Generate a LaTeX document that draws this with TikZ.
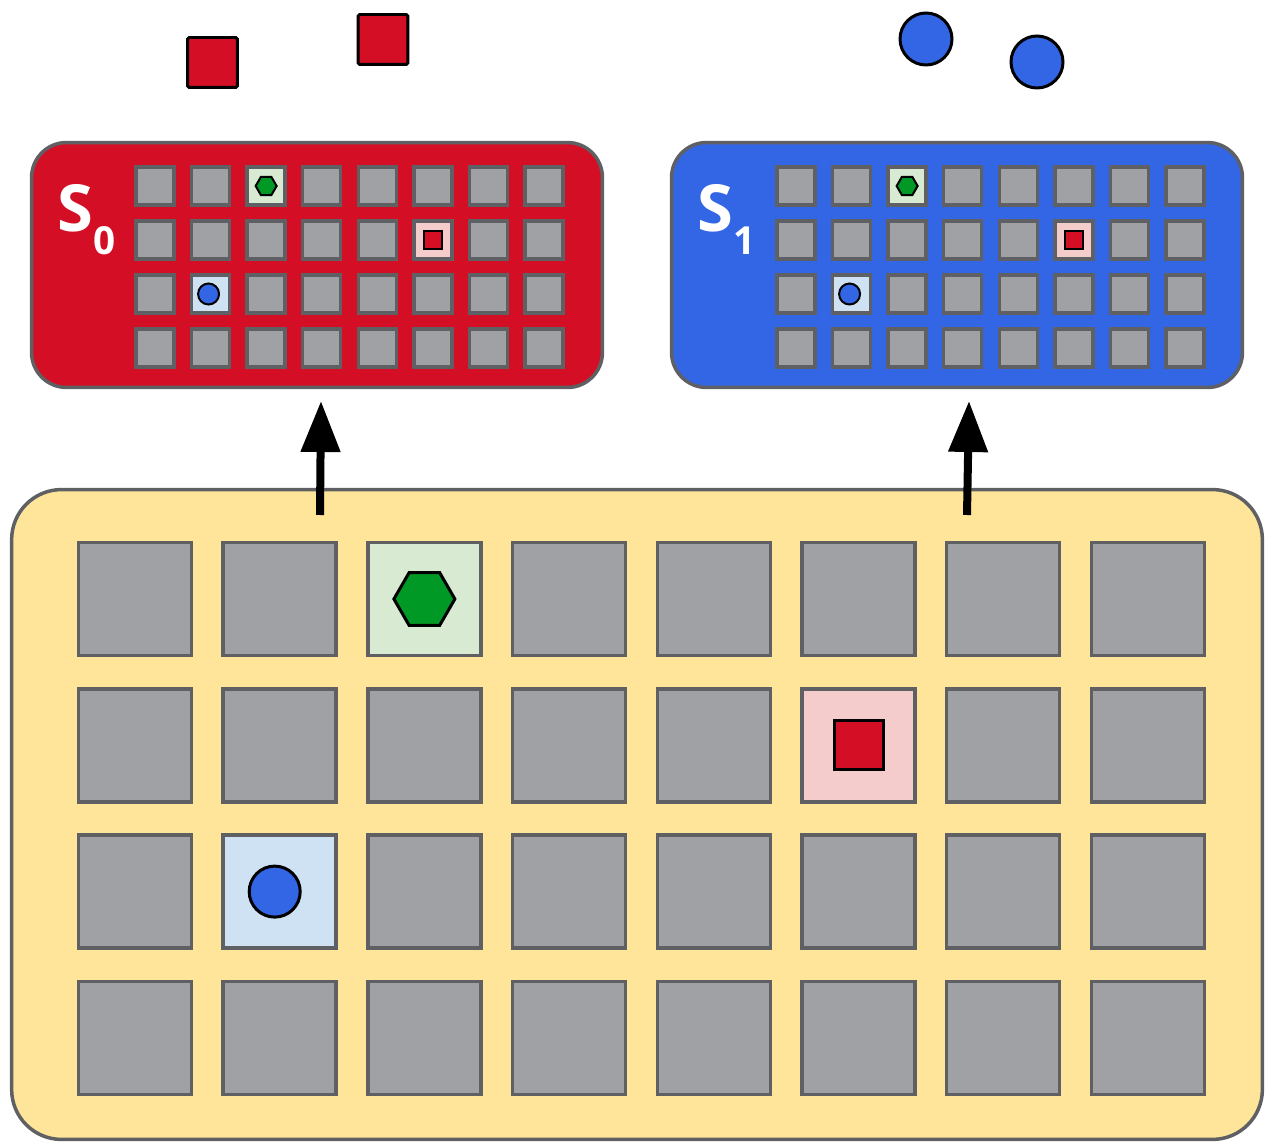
\documentclass[tikz,border=0pt]{standalone}
\usepackage{fontspec}
\setmainfont{Open Sans}
\usetikzlibrary{arrows.meta,shapes.geometric}

\definecolor{tokred}{HTML}{D40F25}
\definecolor{tokblue}{HTML}{3366E5}
\definecolor{tokgreen}{HTML}{009926}
\definecolor{cellgray}{HTML}{A0A1A5}
\definecolor{edgegray}{HTML}{5F6063}
\definecolor{boardyellow}{HTML}{FFE599}
\definecolor{hexbg}{HTML}{D9EAD3}
\definecolor{sqbg}{HTML}{F4CCCC}
\definecolor{dotbg}{HTML}{CFE2F3}

\begin{document}
\begin{tikzpicture}[x=0.02cm, y=-0.02cm,
  board/.style={draw=edgegray, line width=0.07cm, fill=boardyellow, rounded corners=1cm, minimum width=25.02cm, minimum height=13cm, inner sep=0pt},
  panel/.style={draw=edgegray, line width=0.07cm, rounded corners=0.7cm, minimum width=11.42cm, minimum height=4.9cm, inner sep=0pt},
  cell/.style={draw=edgegray, line width=0.07cm, fill=cellgray, minimum size=2.26cm, inner sep=0pt},
  mini/.style={cell, minimum size=0.76cm},
  c20/.style={fill=hexbg}, c51/.style={fill=sqbg}, c12/.style={fill=dotbg},
  hexa/.style={regular polygon, regular polygon sides=6, draw=black, fill=tokgreen, inner sep=0pt},
  sq/.style={rectangle, draw=black, fill=tokred, inner sep=0pt},
  dot/.style={circle, draw=black, fill=tokblue, inner sep=0pt},
  lbl/.style={text=white, inner sep=0pt, font=\bfseries\fontsize{37}{40}\selectfont},
  arr/.style={line width=0.16cm, -{Triangle[length=1.02cm, width=0.76cm]}}]
\useasboundingbox (0,0) rectangle (1268,1145);

% board and the two snapshots
\node[board] (board) at (637,814.5) {};
\node[panel, fill=tokred] (s0) at (317,265) {};
\node[panel, fill=tokblue] (s1) at (957,265) {};

\foreach \cx in {0,...,7}
  \foreach \ry in {0,...,3} {
    \node[cell, c\cx\ry/.try] (b\cx\ry) at (135+144.7*\cx, 599+146.3*\ry) {};
    \node[mini, c\cx\ry/.try] (l\cx\ry) at (155+55.57*\cx, 186+54*\ry) {};
    \node[mini, c\cx\ry/.try] (r\cx\ry) at (796+55.57*\cx, 186+54*\ry) {};
  }

% pieces on the board
\node[hexa, minimum size=1.22cm, line width=0.06cm] (bhex) at (b20) {};
\node[sq, minimum size=0.98cm, line width=0.06cm] (bsq) at (b51) {};
\node[dot, minimum size=1.02cm, line width=0.06cm] (bdot) at ([xshift=-0.1cm]b12) {};

% pieces in the snapshots
\node[hexa, minimum size=0.42cm, line width=0.04cm] (lhex) at (l20) {};
\node[sq, minimum size=0.36cm, line width=0.04cm] (lsq) at (l51) {};
\node[dot, minimum size=0.42cm, line width=0.04cm] (ldot) at ([xshift=-0.04cm]l12) {};
\node[hexa, minimum size=0.42cm, line width=0.04cm] (rhex) at (r20) {};
\node[sq, minimum size=0.36cm, line width=0.04cm] (rsq) at (r51) {};
\node[dot, minimum size=0.42cm, line width=0.04cm] (rdot) at ([xshift=-0.04cm]r12) {};

% labels
\node[lbl, anchor=base west] (n0) at (57,232) {S\raisebox{-0.46cm}{\fontsize{22}{24}\selectfont 0}};
\node[lbl, anchor=base west] (n1) at (697,232) {S\raisebox{-0.46cm}{\fontsize{22}{24}\selectfont 1}};

% loose pieces on top
\node[sq, minimum size=1cm, line width=0.06cm, rounded corners=1pt] (q0) at (212.5,62.5) {};
\node[sq, minimum size=1cm, line width=0.06cm, rounded corners=1pt] (q1) at (383,39.5) {};
\node[dot, minimum size=1.04cm, line width=0.06cm] (p0) at (926,39) {};
\node[dot, minimum size=1.04cm, line width=0.06cm] (p1) at (1037,62) {};

% arrows
\coordinate (a0) at (320,515);
\coordinate (t0) at (321,401);
\coordinate (a1) at (967,515);
\coordinate (t1) at (969,401);
\draw[arr] (a0) -- (t0);
\draw[arr] (a1) -- (t1);
\end{tikzpicture}
\end{document}
